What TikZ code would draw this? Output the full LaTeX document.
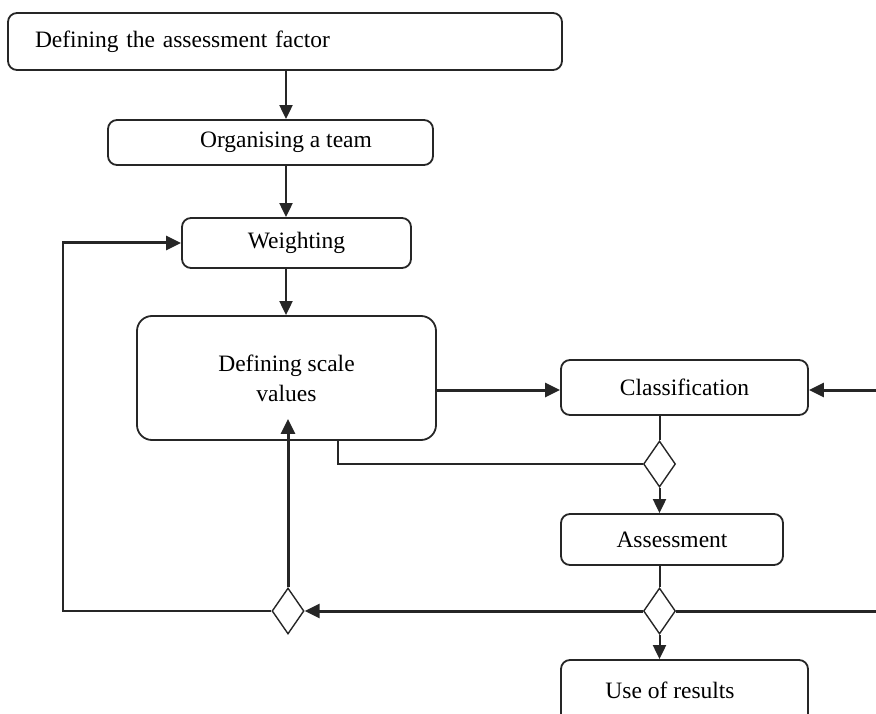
\documentclass[tikz,border=0pt]{standalone}
\usepackage{fontspec}
\setmainfont{Liberation Serif}
\usetikzlibrary{arrows.meta,shapes.geometric,calc}
\begin{document}
\begin{tikzpicture}[x=1pt,y=-1pt,
  font=\fontsize{23.5}{30}\selectfont,
  box/.style={draw=black!85, line width=1.8pt, rounded corners=9pt, inner sep=0pt},
  dia/.style={draw=black!85, line width=1.4pt, diamond, aspect=0.7, minimum width=32pt, minimum height=46pt, inner sep=0pt},
  thin/.style={draw=black!85, line width=2pt},
  thk/.style={draw=black!85, line width=3pt},
  tip/.style={-{Triangle[length=14pt,width=13pt]}},
  tipb/.style={-{Triangle[length=15pt,width=14pt]}}
]
\useasboundingbox (0,0) rectangle (876,714);
\clip (0,0) rectangle (876,714);
% boxes
\node[box, minimum width=554pt, minimum height=57pt, text width=500pt, align=left] (b1) at (285,41.5) {Defining the assessment factor};
\node[box, minimum width=325pt, minimum height=45pt] (b2) at (270.5,142.5) {};
\node (t2) at (286,142) {Organising a team};
\node[box, minimum width=229pt, minimum height=50pt] (w) at (296.5,243) {Weighting};
\node[box, rounded corners=15pt, minimum width=299pt, minimum height=124pt, align=center] (dsv) at (286.5,378) {Defining scale\\values};
\node[box, minimum width=247pt, minimum height=55pt] (cls) at (684.5,387.5) {Classification};
\node[box, minimum width=222pt, minimum height=51pt] (as) at (672,539.5) {Assessment};
\node[box, minimum width=247pt, minimum height=70pt] (ur) at (684.5,695) {};
\node (t7) at (670,690) {Use of results};
% diamonds
\node[dia] (d1) at (659.5,464) {};
\node[dia] (d2) at (659.5,611) {};
\node[dia] (d3) at (288,611) {};
% coordinates
\coordinate (rin) at (876,390);
\coordinate (rbot) at (876,611);
\coordinate (loop) at (63,611);
% connectors
\draw[thin, tip] (b1.south -| 286,0) -- (b2.north -| 286,0);
\draw[thin, tip] (b2.south -| 286,0) -- (w.north -| 286,0);
\draw[thin, tip] (w.south -| 286,0) -- (dsv.north -| 286,0);
\draw[thk, tipb] (dsv.east |- 0,390) -- (cls.west |- 0,390);
\draw[thk, tipb] (rin) -- (rin -| cls.east);
\draw[thin] (cls.south -| d1.north) -- (d1.north);
\draw[line width=2.2pt, draw=black!85] ($(dsv.south)+(51.5,0)$) |- (d1.west);
\draw[thin, tip] (d1.south) -- (d1.south |- as.north);
\draw[thin] (as.south -| d2.north) -- (d2.north);
\draw[thin, tip] (d2.south) -- (d2.south |- ur.north);
\draw[thk] (rbot) -- (d2.east);
\draw[thk, tipb] (d2.west) -- (d3.east);
\draw[thk, tipb] (d3.north) -- ($(d3.north |- dsv.south)+(0,-22)$);
\draw[line width=2.2pt, draw=black!85] (d3.west) -- (loop) -- (loop |- w.west);
\draw[thk, tipb] ($(loop |- w.west)+(-1,0)$) -- (w.west);
\end{tikzpicture}
\end{document}
